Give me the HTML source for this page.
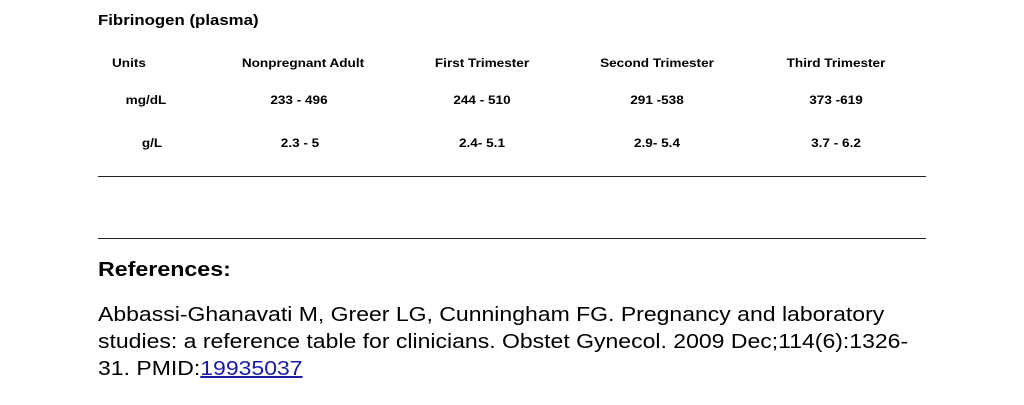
<!DOCTYPE html>
<html><head><style>
body{margin:0;width:1024px;height:405px;background:#fff;font-family:"Liberation Sans",Arial,sans-serif;color:#000;position:relative;overflow:hidden}
.a{position:absolute;white-space:nowrap;transform-origin:left center}
.b{font-weight:bold;font-size:12px;transform:scaleX(1.13)}
.c{transform:translateX(-50%) scaleX(1.13);transform-origin:center center}
.hr{position:absolute;left:98px;width:828px;height:1px;background:#222}
</style></head><body>
<div class="a" style="left:98px;top:12px;font-weight:bold;font-size:15px;transform:scaleX(1.12)">Fibrinogen (plasma)</div>
<div class="a b" style="left:112px;top:56px">Units</div>
<div class="a b c" style="left:303px;top:56px">Nonpregnant Adult</div>
<div class="a b c" style="left:482px;top:56px">First Trimester</div>
<div class="a b c" style="left:657px;top:56px">Second Trimester</div>
<div class="a b c" style="left:836px;top:56px">Third Trimester</div>
<div class="a b c" style="left:146px;top:93px">mg/dL</div>
<div class="a b c" style="left:299px;top:93px">233 - 496</div>
<div class="a b c" style="left:482px;top:93px">244 - 510</div>
<div class="a b c" style="left:657px;top:93px">291 -538</div>
<div class="a b c" style="left:836px;top:93px">373 -619</div>
<div class="a b c" style="left:152px;top:136px">g/L</div>
<div class="a b c" style="left:300px;top:136px">2.3 - 5</div>
<div class="a b c" style="left:482px;top:136px">2.4- 5.1</div>
<div class="a b c" style="left:657px;top:136px">2.9- 5.4</div>
<div class="a b c" style="left:836px;top:136px">3.7 - 6.2</div>
<div class="hr" style="top:176px"></div>
<div class="hr" style="top:238px"></div>
<div class="a" style="left:98px;top:259px;font-weight:bold;font-size:20px;transform:scaleX(1.16)">References:</div>
<div class="a" style="left:98px;top:302px;font-size:20px;line-height:27px;transform:scaleX(1.15);transform-origin:left top">Abbassi-Ghanavati M, Greer LG, Cunningham FG. Pregnancy and laboratory<br>studies: a reference table for clinicians. Obstet Gynecol. 2009 Dec;114(6):1326-<br>31. PMID:<span style="color:#1a1aa6;text-decoration:underline">19935037</span></div>
</body></html>
